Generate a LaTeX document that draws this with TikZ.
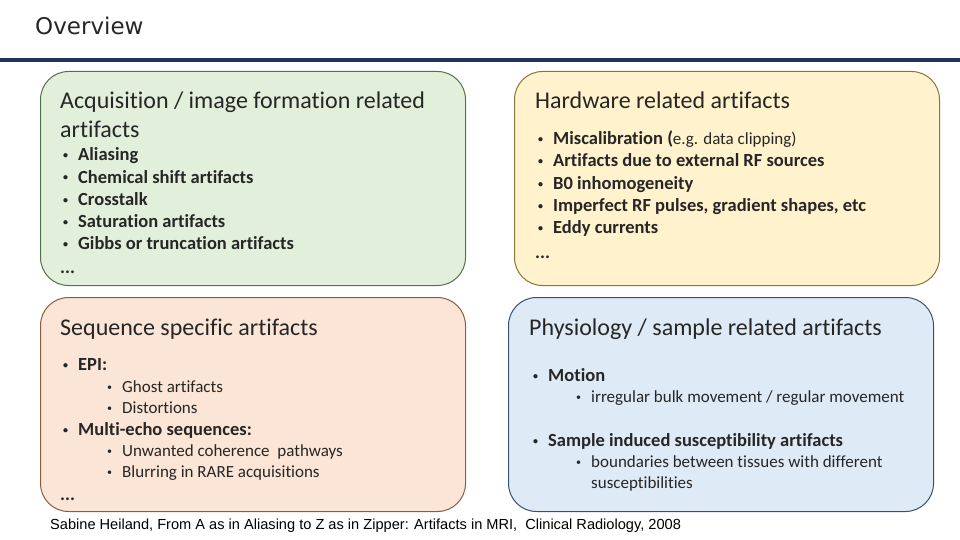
\documentclass[tikz,border=0pt]{standalone}
\usepackage{fontspec}
\setmainfont[Ligatures=NoCommon]{Carlito}
\newfontfamily\headfont{DejaVu Sans}
\newfontfamily\citefont{Liberation Sans}
\usepackage{xcolor}
\usetikzlibrary{positioning}

\definecolor{ink}{HTML}{262626}
\definecolor{rulecol}{HTML}{1F3360}
\definecolor{acqfill}{HTML}{E2EFDA}
\definecolor{acqline}{HTML}{55704A}
\definecolor{hwfill}{HTML}{FFF2CC}
\definecolor{hwline}{HTML}{8C7436}
\definecolor{seqfill}{HTML}{FBE5D6}
\definecolor{seqline}{HTML}{8A5C40}
\definecolor{physfill}{HTML}{DEEBF7}
\definecolor{physline}{HTML}{3B4F70}

\newcommand{\bul}{\makebox[15pt][l]{\raisebox{2.2pt}{\fontsize{10}{10}\selectfont\textbullet}}}

\begin{document}
\begin{tikzpicture}[x=1pt, y=-1pt, text=ink,
  box/.style={draw=#1line, fill=#1fill, line width=1pt, rounded corners=28pt,
    minimum width=425pt, minimum height=214pt, anchor=north west, inner sep=0pt},
  head/.style={anchor=west, inner sep=0pt, font=\fontsize{24}{28}\selectfont, text height=19.5pt, text depth=4pt},
  itm/.style={anchor=west, inner sep=0pt, font=\fontsize{18.5}{22}\selectfont\bfseries, text height=15pt, text depth=3.5pt},
  sub/.style={anchor=west, inner sep=0pt, font=\fontsize{17}{20}\selectfont, text height=14pt, text depth=3.5pt}]
\useasboundingbox (0,0) rectangle (960,540);

% title bar
\node[anchor=base west, inner sep=0pt, font=\headfont\fontsize{23}{27}\selectfont] (title) at (35,35) {Overview};
\draw[rulecol, line width=4pt] (0,60) -- (960,60);

% the four boxes
\node[box=acq] (acq) at (40,71) {};
\node[box=hw] (hw) at (514,71) {};
\node[box=seq] (seq) at (40,297) {};
\node[box=phys] (phys) at (508,297) {};

% acquisition
\node[head] (acqh1) at (60,101) {Acquisition / image formation related};
\node[head] (acqh2) at (60,130) {artifacts};
\foreach \t [count=\i] in {Aliasing, Chemical shift artifacts, Crosstalk, Saturation artifacts, Gibbs or truncation artifacts}
  \node[itm] (acq\i) at (63,{155+22.25*(\i-1)}) {\bul\t};
\node[itm] (acqdots) at (60,268) {...};

% hardware
\node[head] (hwh) at (535,101) {Hardware related artifacts};
\node[itm] (hw1) at (538,139) {\bul Miscalibration (\mdseries\fontsize{17}{20}\selectfont e.g. data clipping)};
\foreach \t [count=\i from 2] in {Artifacts due to external RF sources, B0 inhomogeneity, {Imperfect RF pulses, gradient shapes, etc}, Eddy currents}
  \node[itm] (hw\i) at (538,{139+22.25*(\i-1)}) {\bul\t};
\node[itm] (hwdots) at (535,253) {...};

% sequence
\node[head] (seqh) at (60,328) {Sequence specific artifacts};
\node[itm] (seq1) at (63,365) {\bul EPI:};
\node[sub] (seq11) at (107,387) {\bul Ghost artifacts};
\node[sub] (seq12) at (107,408) {\bul Distortions};
\node[itm] (seq2) at (63,430) {\bul Multi-echo sequences:};
\node[sub] (seq21) at (107,451) {\bul Unwanted coherence~ pathways};
\node[sub] (seq22) at (107,472) {\bul Blurring in RARE acquisitions};
\node[itm] (seqdots) at (60,495) {...};

% physiology
\node[head] (physh) at (529,328) {Physiology / sample related artifacts};
\node[itm] (phys1) at (533,376) {\bul Motion};
\node[sub] (phys11) at (576,397) {\bul irregular bulk movement / regular movement};
\node[itm] (phys2) at (533,441) {\bul Sample induced susceptibility artifacts};
\node[sub] (phys21) at (576,462) {\bul boundaries between tissues with different};
\node[sub] (phys22) at (591,483) {susceptibilities};

% reference
\node[anchor=west, inner sep=0pt, font=\citefont\fontsize{14.6}{17}\selectfont, text=black] (cite) at (50,526)
  {Sabine Heiland, From A as in Aliasing to Z as in Zipper: Artifacts in MRI,~ Clinical Radiology, 2008};
\end{tikzpicture}
\end{document}
